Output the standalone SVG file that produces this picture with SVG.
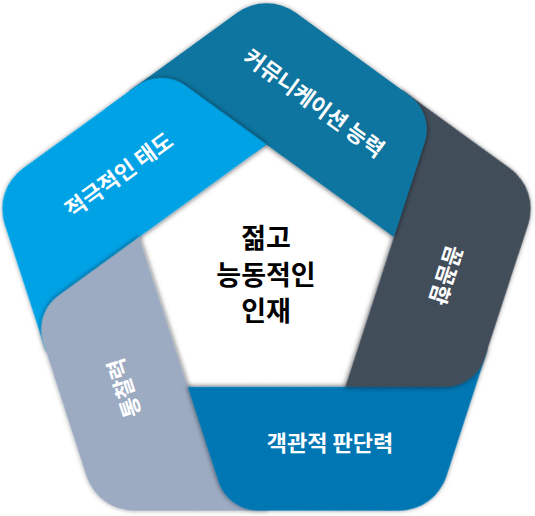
<svg xmlns="http://www.w3.org/2000/svg" xmlns:xlink="http://www.w3.org/1999/xlink" width="535" height="516" viewBox="0 0 535 516">
  <style>
    .lbl { font-family: "Noto Sans CJK KR", "Noto Sans", sans-serif; font-weight: 700; font-size: 22px; fill: #ffffff; text-anchor: middle; }
    .ctr { font-family: "Noto Sans CJK KR", "Noto Sans", sans-serif; font-weight: 700; font-size: 27px; fill: #000000; text-anchor: middle; }
  </style>
  <defs>
    <filter id="sh" x="-20%" y="-20%" width="140%" height="140%">
      <feGaussianBlur in="SourceAlpha" stdDeviation="2.5"/>
      <feOffset dx="0" dy="1" result="b"/>
      <feFlood flood-color="#000" flood-opacity="0.6"/>
      <feComposite in2="b" operator="in"/>
      <feMerge><feMergeNode/><feMergeNode in="SourceGraphic"/></feMerge>
    </filter>
    <path id="band" d="M 128.80 91.54 L 237.11 12.85 A 50 50 0 0 1 295.89 12.85 L 409.47 95.38 A 42 42 0 0 1 424.72 142.33 L 393.94 237.09 L 266.5 144.5 Z"/>
    <clipPath id="topclip">
      <polygon points="104.70,109.06 266.5,-8.5 315.04,26.77 282.68,156.26 266.5,144.5 254.36,153.32"/>
    </clipPath>
  </defs>
  <rect width="535" height="516" fill="#ffffff"/>

  <g id="node-attitude">
    <use xlink:href="#band" href="#band" transform="rotate(288 266.5 278.5)" fill="#02A2E6" filter="url(#sh)"/>
    <text class="lbl" transform="translate(119 175) rotate(-36)" x="0" y="8">적극적인 태도</text>
  </g>
  <g id="node-insight">
    <use xlink:href="#band" href="#band" transform="rotate(216 266.5 278.5)" fill="#9DABC2" filter="url(#sh)"/>
    <text class="lbl" transform="translate(124 388) rotate(-108)" x="0" y="8">통찰력</text>
  </g>
  <g id="node-judgement">
    <use xlink:href="#band" href="#band" transform="rotate(144 266.5 278.5)" fill="#0576B3" filter="url(#sh)"/>
    <text class="lbl" transform="translate(330 443)" x="0" y="8">객관적 판단력</text>
  </g>
  <g id="node-meticulous">
    <use xlink:href="#band" href="#band" transform="rotate(72 266.5 278.5)" fill="#434E5A" filter="url(#sh)"/>
    <text class="lbl" transform="translate(446 275) rotate(108)" x="0" y="8">꼼꼼함</text>
  </g>
  <g id="node-communication">
    <use xlink:href="#band" href="#band" fill="#0E75A0" filter="url(#sh)"/>
    <text class="lbl" transform="translate(314 103) rotate(36)" x="0" y="8">커뮤니케이션 능력</text>
  </g>
  <g id="node-attitude-overlap" clip-path="url(#topclip)">
    <use xlink:href="#band" href="#band" transform="rotate(288 266.5 278.5)" fill="#02A2E6" filter="url(#sh)"/>
  </g>

  <g id="connectors"></g>

  <g id="node-center">
    <text class="ctr" x="266" y="247.5">젊고</text>
    <text class="ctr" x="266" y="285">능동적인</text>
    <text class="ctr" x="266" y="320.5">인재</text>
  </g>
</svg>
